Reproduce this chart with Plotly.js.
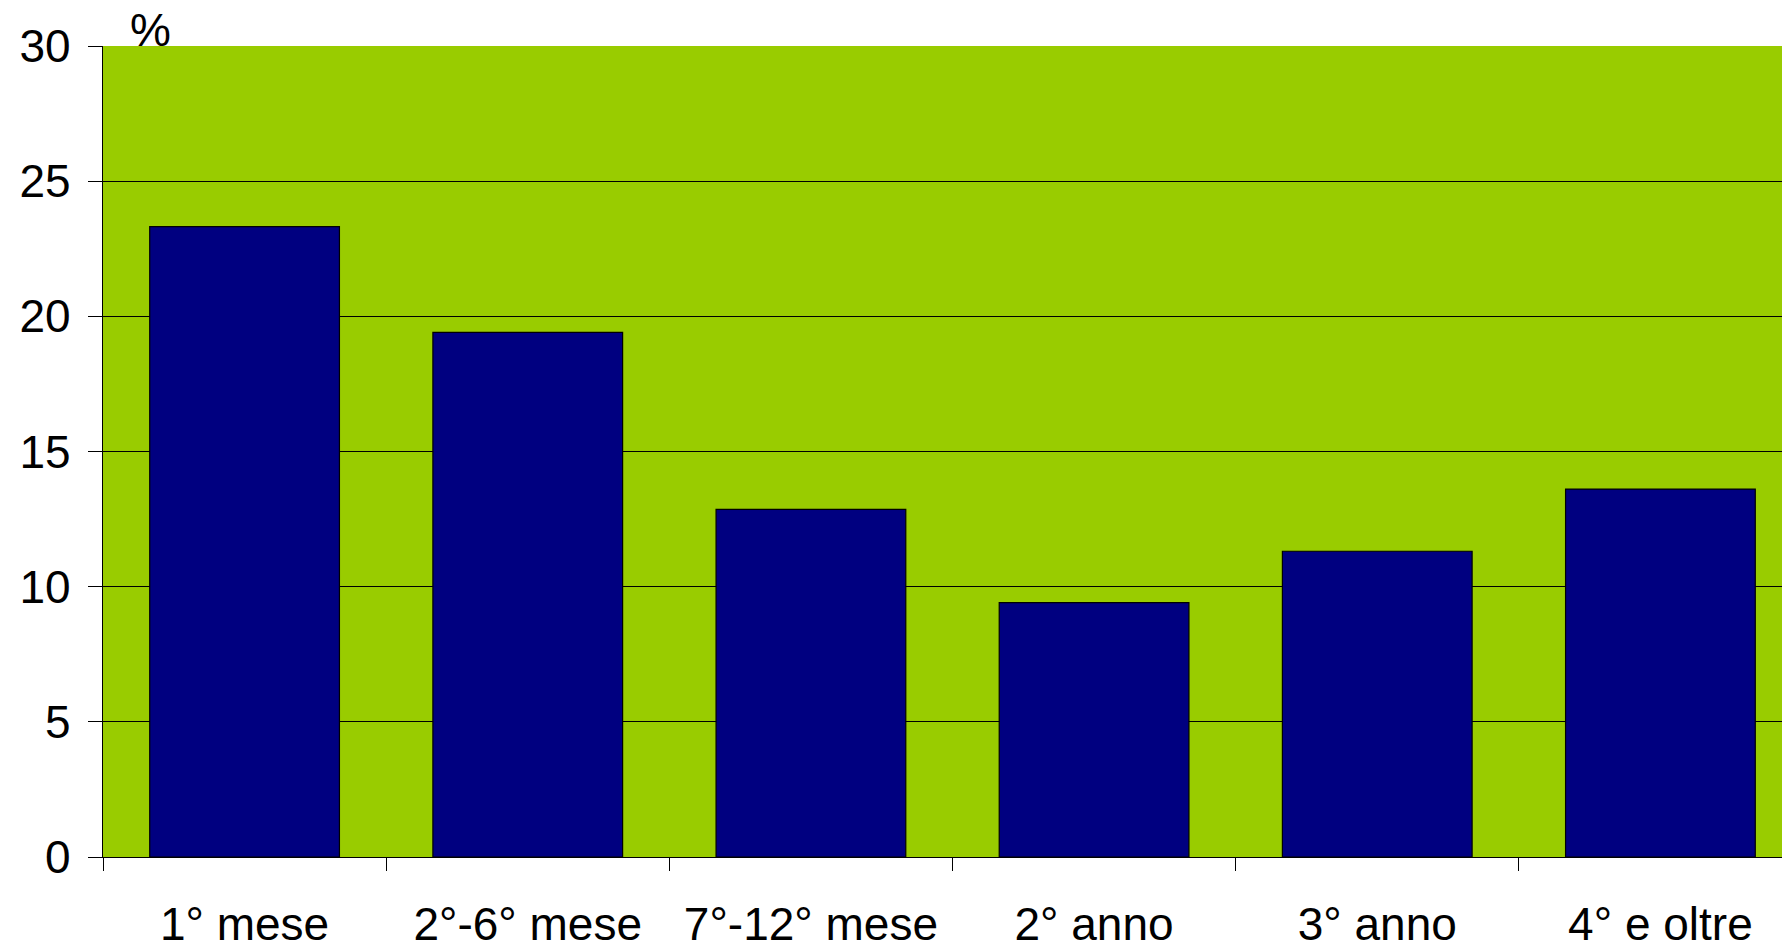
<!DOCTYPE html>
<html>
<head>
<meta charset="utf-8">
<script src="https://cdn.plot.ly/plotly-3.0.1.min.js"></script>
<style>
html, body { margin: 0; padding: 0; overflow: hidden; background: #fff; }
#chart { width: 1802px; height: 944px; }
</style>
</head>
<body>
<div id="chart"></div>
<script>
const categories = ["1° mese", "2°-6° mese", "7°-12° mese", "2° anno", "3° anno", "4° e oltre"];
const values = [23.32, 19.41, 12.86, 9.41, 11.31, 13.61];
const yTickValues = [0, 5, 10, 15, 20, 25, 30];
const unitLabel = "%";

const FONT = "Liberation Sans, Arial, sans-serif";
const FS = 46;

const trace = {
  type: "bar",
  x: categories,
  y: values,
  marker: { color: "#000080", line: { color: "#000000", width: 1.2 } },
  hoverinfo: "x+y"
};

const layout = {
  width: 1802,
  height: 944,
  margin: { l: 103, r: 0, t: 46, b: 87, pad: 0 },
  paper_bgcolor: "#ffffff",
  plot_bgcolor: "#99CC00",
  showlegend: false,
  bargap: 0.33,
  font: { family: FONT, size: FS, color: "#000000" },
  xaxis: {
    type: "category",
    tickson: "boundaries",
    ticks: "outside",
    ticklen: 13,
    tickwidth: 1,
    tickcolor: "#000000",
    showline: true,
    linecolor: "#000000",
    linewidth: 1.2,
    showgrid: false,
    zeroline: false,
    ticklabelstandoff: 27,
    tickfont: { family: FONT, size: FS, color: "#000000" }
  },
  yaxis: {
    range: [0, 30],
    tickvals: yTickValues,
    ticktext: yTickValues.map(String),
    ticks: "outside",
    ticklen: 14,
    tickwidth: 1,
    tickcolor: "#000000",
    showline: true,
    linecolor: "#000000",
    linewidth: 1.2,
    showgrid: true,
    gridcolor: "#000000",
    gridwidth: 1.2,
    zeroline: false,
    ticklabelstandoff: 8,
    tickfont: { family: FONT, size: FS, color: "#000000" }
  },
  annotations: [{
    text: unitLabel,
    xref: "paper", yref: "paper",
    x: 0.0145, y: 1.02,
    xanchor: "left", yanchor: "middle",
    showarrow: false,
    font: { family: FONT, size: FS, color: "#000000" }
  }]
};

Plotly.newPlot("chart", [trace], layout, { displayModeBar: false, staticPlot: true });
</script>
</body>
</html>
